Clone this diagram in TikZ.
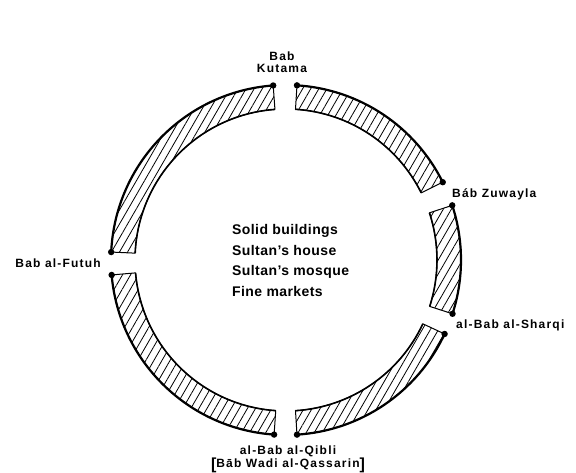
\documentclass[tikz,border=0pt]{standalone}
\usepackage{fontspec}
\setmainfont{Liberation Sans}
\newfontfamily\gatefont[LetterSpace=10]{Liberation Sans}
\newfontfamily\notefont[LetterSpace=3]{Liberation Sans}
\usetikzlibrary{patterns.meta}

\begin{document}
\begin{tikzpicture}[
    x=1pt, y=1pt,
    wall/.style={draw=black, line width=1pt, line join=round,
                 pattern={Lines[angle=60, distance=7pt, line width=0.8pt]}},
    rim/.style={line width=2.2pt},
    gate/.style={font={\gatefont\bfseries\fontsize{12}{11.5}\selectfont}, inner sep=1pt},
    notes/.style={font={\notefont\bfseries\fontsize{14}{20.7}\selectfont}, align=left, inner sep=0pt}
]
\useasboundingbox (0,0) rectangle (576,473);

% City wall: five hatched stretches between the gates
\begin{scope}[shift={(286,213)}]
\foreach \a/\b in {177.4/94.2, 86.4/26.4, 18.2/-17.9, -25.0/-86.4, -93.9/-175.1} {
    \draw[wall] (\a:175) arc (\a:\b:175) -- (\b:151) arc (\b:\a:151) -- cycle;
    \draw[rim] (\a:175) arc (\a:\b:175);
    \draw[line width=1.6pt] (\a:151) arc (\a:\b:151);
    \fill (\a:175) circle (3.2);
    \fill (\b:175) circle (3.2);
}
\end{scope}

% Gates
\node[gate, align=center] (kutama) at (282,411) {Bab\\Kutama};
\node[gate, anchor=west] (zuwayla) at (451,279) {Báb Zuwayla};
\node[gate, anchor=west] (sharqi) at (455,148) {al-Bab al-Sharqi};
\node[gate, anchor=east] (futuh) at (102,210) {Bab al-Futuh};
\node[gate, align=center] (qibli) at (288,14)
    {al-Bab al-Qibli\\{\raisebox{-1.5pt}{\fontsize{16}{11}\selectfont[}}Bāb Wadi al-Qassarin{\raisebox{-1.5pt}{\fontsize{16}{11}\selectfont]}}};

% Inside the walls
\node[notes, anchor=north west] (inside) at (232,249)
    {Solid buildings\\Sultan’s house\\Sultan’s mosque\\Fine markets};

\end{tikzpicture}
\end{document}
